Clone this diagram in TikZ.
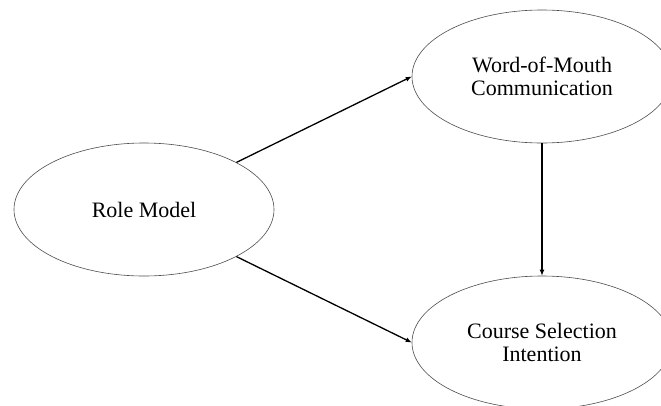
\documentclass[tikz,border=0pt]{standalone}
\usepackage{fontspec}
\setmainfont{Liberation Serif}
\usetikzlibrary{shapes.geometric,arrows.meta}
\begin{document}
\begin{tikzpicture}[x=1pt,y=-1pt,
                    construct/.style={ellipse,draw=black!70,line width=.6pt,
                      minimum width=260pt,minimum height=133pt,inner sep=0pt,
                      align=center,font=\fontsize{22}{23}\selectfont},
                    link/.style={line width=1.3pt,-{Latex[length=6pt,width=5pt]}}]
 \clip (0,0) rectangle (661,405);
 \node[construct] (rm) at (144,209.5) {Role Model};
 \node[construct] (wom) at (542,76.5) {Word-of-Mouth\\Communication};
 \node[construct] (csi) at (542,342.5) {Course Selection\\Intention};
 \draw[link] (rm.27) -- (wom.west);
 \draw[link] (rm.-27) -- (csi.west);
 \draw[link] (wom.south) -- (csi.north);
\end{tikzpicture}
\end{document}
